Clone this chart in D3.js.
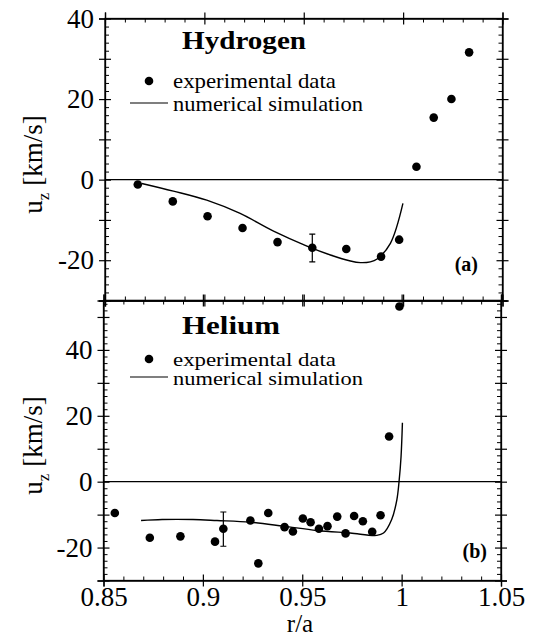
<!DOCTYPE html>
<html lang="en">
<head>
    <meta charset="UTF-8">
    <title>u_z vs r/a</title>
    <script src="https://d3js.org/d3.v7.min.js" charset="utf-8"></script>
    <style>
        html, body {
        margin:0;
        background:#fff;
        }

        svg {
        position:absolute;
        top:0px;
        left:0px;
        }
    </style>
</head>
<body>
<svg width="541" height="637"></svg>
<script>
    // Hydrogen: experimental points and simulation curve
    var hRadius = [0.8665, 0.8841, 0.9016, 0.9192, 0.9368, 0.9543, 0.9714, 0.9889, 0.998, 1.0067, 1.0154, 1.0243, 1.0332];
    var hVelocity = [-1.2, -5.4, -9.1, -12.0, -15.5, -16.9, -17.2, -19.1, -14.9, 3.2, 15.4, 20.0, 31.6];
    var hErrorBar = [0.9543, -20.4, -13.5];
    var hSimRadius = [0.8685, 0.8844, 0.9012, 0.918, 0.9348, 0.9516, 0.9634, 0.9735, 0.9785, 0.9835, 0.9869, 0.9936, 0.9999];
    var hSimVelocity = [-0.95, -2.85, -5.1, -8.4, -12.8, -16.5, -18.7, -20.2, -20.6, -20.4, -19.7, -15.8, -5.9];

    // Helium: experimental points and simulation curve
    var heRadius = [0.8557, 0.8733, 0.8887, 0.9061, 0.9103, 0.9239, 0.9279, 0.9329, 0.9411, 0.9453, 0.9503,
        0.9542, 0.9584, 0.9627, 0.9676, 0.9718, 0.9761, 0.9805, 0.9852, 0.9894, 0.9937, 0.9989];
    var heVelocity = [-9.5, -17.0, -16.6, -18.2, -14.3, -11.8, -24.8, -9.5, -13.8, -15.1, -11.2,
        -12.3, -14.3, -13.5, -10.6, -15.7, -10.4, -12.0, -15.2, -10.2, 13.7, 53.2];
    var heErrorBar = [0.9103, -19.6, -9.2];
    var heSimRadius = [0.8689, 0.8795, 0.895, 0.9071, 0.9239, 0.9406, 0.9574, 0.9741, 0.9875, 0.9909, 0.995, 0.9976, 0.9987, 0.9997, 1.0004];
    var heSimVelocity = [-11.8, -11.5, -11.5, -11.8, -12.3, -13.5, -14.8, -15.6, -16.3, -15.6, -11.5, -5.5, 0, 7.5, 17.9];

    // axis ticks
    var xMajor = [0.85, 0.9, 0.95, 1, 1.05];
    var xLabels = ["0.85", "0.9", "0.95", "1", "1.05"];
    var legendLabels = ["experimental data", "numerical simulation"];

    var serif = "'Liberation Serif', 'Times New Roman', serif";

    var svg = d3.select('svg');

    var panels = [
        {title: "Hydrogen", tag: "(a)", r: hRadius, u: hVelocity, err: hErrorBar,
            simR: hSimRadius, simU: hSimVelocity,
            yDomain: [-30, 40], top: 18.5, bottom: 300.5, left: 105, right: 502.5, xLabels: false,
            titleY: 49, legendY: 88, legendGap: 23, legendFont: 21, tagX: 478, tagY: 271},
        {title: "Helium", tag: "(b)", r: heRadius, u: heVelocity, err: heErrorBar,
            simR: heSimRadius, simU: heSimVelocity,
            yDomain: [-30, 55], top: 300.5, bottom: 580.5, left: 103.5, right: 501, xLabels: true,
            titleY: 334, legendY: 366, legendGap: 19, legendFont: 19.5, tagX: 487, tagY: 558}
    ];

    panels.forEach(function(p) {
        var x = d3.scaleLinear().domain([0.85, 1.05]).range([p.left, p.right]);
        var y = d3.scaleLinear().domain(p.yDomain).range([p.bottom, p.top]);
        var g = svg.append("g");

        var yMajor = d3.range(-30, p.yDomain[1] + 1, 10);
        var yMinor = d3.range(-30, p.yDomain[1] + 1, 2).filter(function(v) { return v % 10 !== 0; });
        var xMinor = d3.range(85, 106, 1).map(function(v) { return v / 100; })
            .filter(function(v) { return xMajor.indexOf(v) < 0; });

        // zero line
        g.append("line")
            .attr("x1", p.left).attr("x2", p.right)
            .attr("y1", y(0)).attr("y2", y(0))
            .attr("stroke", "#000").attr("stroke-width", 1.3);

        // frame
        g.append("rect")
            .attr("x", p.left).attr("y", p.top)
            .attr("width", p.right - p.left).attr("height", p.bottom - p.top)
            .attr("fill", "none").attr("stroke", "#000").attr("stroke-width", 1.3);

        function addAxis(gen, tr, major, labels) {
            var a = g.append("g").attr("transform", tr);
            a.call(gen.tickValues(major).tickSizeOuter(0).tickSize(6).tickPadding(5)
                .tickFormat(function(d, i) { return labels ? labels(d, i) : ""; }));
            a.selectAll(".tick line").attr("stroke-width", 1.2);
            a.selectAll("text").style("font-family", serif).style("font-size", "27px");
            return a;
        }

        function addMinor(gen, tr, minor) {
            var a = g.append("g").attr("transform", tr);
            a.call(gen.tickValues(minor).tickSizeOuter(0).tickSize(-4).tickFormat(""));
            a.select(".domain").remove();
            a.selectAll(".tick line").attr("stroke-width", 1);
        }

        // left axis with labels on multiples of 20
        var la = addAxis(d3.axisLeft(y), "translate(" + p.left + ",0)", yMajor,
            function(d) { return d % 20 === 0 ? String(d) : ""; });
        la.selectAll(".tick line").attr("x1", 6);
        var ra = addAxis(d3.axisRight(y), "translate(" + p.right + ",0)", yMajor, null);
        ra.selectAll(".tick line").attr("x1", -6);
        addMinor(d3.axisLeft(y), "translate(" + p.left + ",0)", yMinor);
        addMinor(d3.axisRight(y), "translate(" + p.right + ",0)", yMinor);

        var ta = addAxis(d3.axisTop(x), "translate(0," + p.top + ")", xMajor, null);
        ta.selectAll(".tick line").attr("y1", 6);
        var ba = addAxis(d3.axisBottom(x), "translate(0," + p.bottom + ")", xMajor,
            p.xLabels ? function(d, i) { return xLabels[i]; } : null);
        ba.selectAll(".tick line").attr("y1", -6);
        ba.selectAll("text").attr("y", 6);
        addMinor(d3.axisTop(x), "translate(0," + p.top + ")", xMinor);
        addMinor(d3.axisBottom(x), "translate(0," + p.bottom + ")", xMinor);
        g.selectAll(".domain").attr("stroke-width", 1.3);

        // simulation curve
        var line = d3.line()
            .x(function(d) { return x(d[0]); })
            .y(function(d) { return y(d[1]); })
            .curve(d3.curveCatmullRom.alpha(0.5));
        g.append("path")
            .datum(d3.zip(p.simR, p.simU))
            .attr("d", line)
            .attr("fill", "none").attr("stroke", "#000").attr("stroke-width", 1.4);

        // error bar
        var ex = x(p.err[0]);
        g.append("path")
            .attr("d", "M" + ex + "," + y(p.err[1]) + "V" + y(p.err[2]) +
                "M" + (ex - 3) + "," + y(p.err[1]) + "h6" +
                "M" + (ex - 3) + "," + y(p.err[2]) + "h6")
            .attr("stroke", "#000").attr("stroke-width", 1.2).attr("fill", "none");

        // experimental points
        g.selectAll("circle.pt")
            .data(d3.zip(p.r, p.u))
            .enter()
            .append("circle")
            .attr("class", "pt")
            .attr("cx", function(d) { return x(d[0]); })
            .attr("cy", function(d) { return y(d[1]); })
            .attr("r", 4.3)
            .attr("fill", "#000");

        // title
        g.append("text")
            .attr("x", 182).attr("y", p.titleY)
            .style("font-family", serif).style("font-size", "25px").style("font-weight", "bold")
            .attr("textLength", p.title === "Hydrogen" ? 124 : 98)
            .attr("lengthAdjust", "spacingAndGlyphs")
            .text(p.title);

        // legend
        g.append("circle")
            .attr("cx", 149).attr("cy", p.legendY - 7).attr("r", 4.3).attr("fill", "#000");
        g.append("text")
            .attr("x", 173).attr("y", p.legendY)
            .style("font-family", serif).style("font-size", p.legendFont + "px")
            .attr("textLength", 163).attr("lengthAdjust", "spacingAndGlyphs")
            .text(legendLabels[0]);
        g.append("line")
            .attr("x1", 130).attr("x2", 168)
            .attr("y1", p.legendY + p.legendGap - 8).attr("y2", p.legendY + p.legendGap - 8)
            .attr("stroke", "#000").attr("stroke-width", 1.2);
        g.append("text")
            .attr("x", 173).attr("y", p.legendY + p.legendGap)
            .style("font-family", serif).style("font-size", p.legendFont + "px")
            .attr("textLength", 190).attr("lengthAdjust", "spacingAndGlyphs")
            .text(legendLabels[1]);

        // panel tag
        g.append("text")
            .attr("x", p.tagX).attr("y", p.tagY)
            .attr("text-anchor", "end")
            .style("font-family", serif).style("font-size", "20px").style("font-weight", "bold")
            .text(p.tag);

        // y axis title
        var yt = g.append("text")
            .attr("transform", "translate(42," + ((p.top + p.bottom) / 2 + 5) + ") rotate(-90)")
            .attr("text-anchor", "middle")
            .style("font-family", serif).style("font-size", "27px");
        yt.append("tspan").text("u");
        yt.append("tspan").style("font-size", "17px").attr("dy", 7).text("z");
        yt.append("tspan").attr("dy", -7).text(" [km/s]");
    });

    svg.append("text")
        .attr("x", 300).attr("y", 632)
        .attr("text-anchor", "middle")
        .style("font-family", serif).style("font-size", "25px")
        .text("r/a");
</script>
</body>
</html>
